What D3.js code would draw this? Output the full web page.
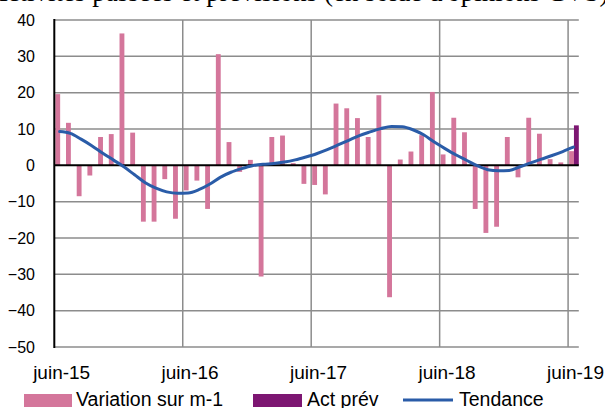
<!DOCTYPE html>
<html><head><meta charset="utf-8">
<script src="https://cdn.jsdelivr.net/npm/d3@7"></script>
<style>body{margin:0;background:#fff;overflow:hidden}svg{display:block}</style>
</head><body>
<script>
const categories = ["juin-15","juil-15","août-15","sept-15","oct-15","nov-15","déc-15","janv-16","févr-16","mars-16","avr-16","mai-16",
"juin-16","juil-16","août-16","sept-16","oct-16","nov-16","déc-16","janv-17","févr-17","mars-17","avr-17","mai-17",
"juin-17","juil-17","août-17","sept-17","oct-17","nov-17","déc-17","janv-18","févr-18","mars-18","avr-18","mai-18",
"juin-18","juil-18","août-18","sept-18","oct-18","nov-18","déc-18","janv-19","févr-19","mars-19","avr-19","mai-19","juin-19"];
const variation = [19.6,11.7,-8.5,-2.8,7.8,8.6,36.3,9.0,-15.5,-15.5,-3.8,-14.7,
-6.9,-4.2,-12.0,30.6,6.4,-1.8,1.5,-30.6,7.8,8.2,0.6,-5.1,
-5.4,-8.0,17.0,15.7,13.0,7.8,19.3,-36.3,1.6,3.8,8.3,20.2,
3.0,13.1,9.1,-12.0,-18.6,-16.9,7.8,-3.3,13.1,8.7,1.7,0.8,3.9];
const actPrev = [null,null,null,null,null,null,null,null,null,null,null,null,
null,null,null,null,null,null,null,null,null,null,null,null,
null,null,null,null,null,null,null,null,null,null,null,null,
null,null,null,null,null,null,null,null,null,null,null,null,11.0];
const tendance = [9.3,8.8,7.2,5.4,3.4,1.5,-0.4,-2.6,-4.8,-6.3,-7.3,-7.7,
-7.6,-6.7,-5.2,-3.3,-1.9,-0.9,-0.1,0.3,0.5,0.9,1.5,2.3,
3.2,4.3,5.6,6.9,8.2,9.2,10.1,10.7,10.6,9.8,8.4,6.4,
4.6,2.9,1.4,-0.1,-1.2,-1.5,-1.4,-0.4,0.7,1.7,2.7,3.8,5.0];
const yTicks = [40,30,20,10,0,-10,-20,-30,-40,-50];
const xTickLabels = ["juin-15","juin-16","juin-17","juin-18","juin-19"];
const seriesNames = ["Variation sur m-1","Act prév","Tendance"];
const titleText = "Activités passées et prévisions (en solde d'opinions CVS)";

(function () {
const W = 605, H = 408;
const pL = 54.3, pR = 578.8, pT = 20, pB = 347;
const pink = "#D4769B", purple = "#7D1672", blue = "#2A5CA8", grid = "#8C8C8C";
const sans = "'Liberation Sans',Arial,sans-serif";

const svg = d3.select("body").append("svg").attr("width", W).attr("height", H);

const x = d3.scaleBand().domain(categories).range([pL, pR]).padding(0);
const bw = x.bandwidth();
const xs = d3.scaleBand().domain(["v","a"]).range([1, bw]).padding(0);
const y = d3.scaleLinear().domain([-50, 40]).range([pB, pT]);

// clipped title
svg.append("text").attr("x", -12).attr("y", 1)
  .attr("font-family", "'Liberation Serif','Times New Roman',serif").attr("font-size", 27)
  .attr("fill", "#000").text(titleText);

// horizontal gridlines
svg.append("g").selectAll("line").data(yTicks.filter(d => d !== 0)).join("line")
  .attr("x1", pL).attr("x2", pR).attr("y1", d => y(d)).attr("y2", d => y(d))
  .attr("stroke", grid).attr("stroke-width", 1.5);

// vertical gridlines at tick categories
svg.append("g").selectAll("line").data(xTickLabels.slice(1)).join("line")
  .attr("x1", d => x(d)).attr("x2", d => x(d)).attr("y1", pT).attr("y2", pB)
  .attr("stroke", grid).attr("stroke-width", 1.5);

// bars
svg.append("g").selectAll("rect").data(variation.map((v, i) => ({c: categories[i], v}))).join("rect")
  .attr("x", d => x(d.c) + xs("v")).attr("width", xs.bandwidth())
  .attr("y", d => y(Math.max(0, d.v))).attr("height", d => Math.abs(y(d.v) - y(0)))
  .attr("fill", pink);
svg.append("g").selectAll("rect").data(actPrev.map((v, i) => ({c: categories[i], v})).filter(d => d.v !== null)).join("rect")
  .attr("x", d => x(d.c) + xs("a")).attr("width", xs.bandwidth())
  .attr("y", d => y(Math.max(0, d.v))).attr("height", d => Math.abs(y(d.v) - y(0)))
  .attr("fill", purple);

// zero line and y axis line
svg.append("line").attr("x1", pL).attr("x2", pR).attr("y1", y(0)).attr("y2", y(0))
  .attr("stroke", "#000").attr("stroke-width", 2);
svg.append("line").attr("x1", pL).attr("x2", pL).attr("y1", pT - 1).attr("y2", pB + 1)
  .attr("stroke", "#000").attr("stroke-width", 2);

// trend line
const line = d3.line().x((d, i) => x(categories[i]) + bw / 2).y(d => y(d)).curve(d3.curveMonotoneX);
svg.append("path").datum(tendance).attr("d", line).attr("fill", "none")
  .attr("stroke", blue).attr("stroke-width", 3).attr("stroke-linecap", "round");

// y labels
const yAxis = d3.axisLeft(y).tickValues(yTicks).tickSize(0).tickPadding(0);
const gy = svg.append("g").attr("transform", "translate(35,0)").call(yAxis);
gy.select(".domain").remove();
gy.selectAll("text").attr("font-family", sans).attr("font-size", 16).attr("fill", "#000");

// x labels
const gx = svg.append("g").attr("transform", `translate(0,${pB})`)
  .call(d3.axisBottom(x).tickValues(xTickLabels).tickSize(0).tickPadding(0));
gx.select(".domain").remove();
gx.selectAll("text").attr("x", 2).attr("dy", 0).attr("y", 32)
  .attr("font-family", sans).attr("font-size", 19).attr("fill", "#000");

// legend
const lg = svg.append("g").attr("font-family", sans).attr("font-size", 19.5).attr("fill", "#000");
lg.append("rect").attr("x", 24).attr("y", 394).attr("width", 48).attr("height", 13).attr("fill", pink);
lg.append("text").attr("x", 76).attr("y", 406).text(seriesNames[0]);
lg.append("rect").attr("x", 253).attr("y", 394).attr("width", 49).attr("height", 13).attr("fill", purple);
lg.append("text").attr("x", 307).attr("y", 406).text(seriesNames[1]);
lg.append("line").attr("x1", 403).attr("x2", 453).attr("y1", 400).attr("y2", 400).attr("stroke", blue).attr("stroke-width", 3);
lg.append("text").attr("x", 459).attr("y", 406).text(seriesNames[2]);
})();
</script>
</body></html>
